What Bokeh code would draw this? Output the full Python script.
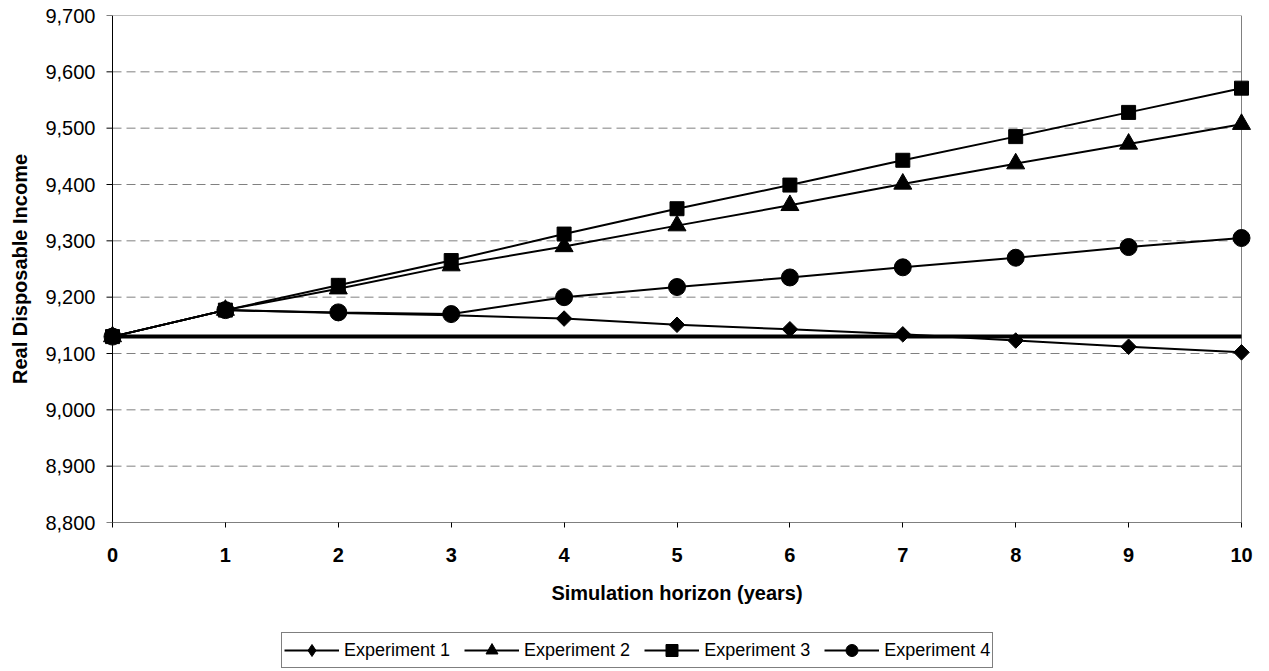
import numpy as np
from bokeh.plotting import figure
from bokeh.models import Range1d, FixedTicker, NumeralTickFormatter, Legend, LegendItem
from bokeh.layouts import column
from bokeh.embed import file_html
from bokeh.resources import INLINE

years = [0, 1, 2, 3, 4, 5, 6, 7, 8, 9, 10]
exp1 = [9130, 9177, 9172, 9168, 9162, 9151, 9143, 9134, 9123, 9112, 9102]
exp2 = [9130, 9177, 9215, 9256, 9290, 9327, 9363, 9401, 9437, 9472, 9507]
exp3 = [9130, 9177, 9221, 9265, 9312, 9357, 9399, 9443, 9485, 9528, 9571]
exp4 = [9130, 9177, 9173, 9170, 9200, 9218, 9235, 9253, 9270, 9289, 9305]
baseline = [9130] * 11
series_names = ["Experiment 1", "Experiment 2", "Experiment 3", "Experiment 4"]
y_ticks = [8800, 8900, 9000, 9100, 9200, 9300, 9400, 9500, 9600, 9700]

FONT = "Liberation Sans"
X0, X1 = years[0], years[-1]
Y0, Y1 = y_ticks[0], y_ticks[-1]

# frame is padded a little beyond the data area so that end markers are not clipped
PX_PER_YEAR = 1129 / (X1 - X0)
PAD = 12 / PX_PER_YEAR

p = figure(width=1269, height=630, output_backend="svg", toolbar_location=None,
           x_range=Range1d(X0 - PAD, X1 + PAD), y_range=Range1d(Y0, Y1),
           min_border_left=100, min_border_right=16, min_border_top=15, min_border_bottom=108)
p.background_fill_color = "white"
p.border_fill_color = "white"
p.outline_line_color = None

p.xaxis.ticker = FixedTicker(ticks=years)
p.yaxis.ticker = FixedTicker(ticks=y_ticks)
p.yaxis.formatter = NumeralTickFormatter(format="0,0")
for ax in (p.xaxis[0], p.yaxis[0]):
    ax.axis_line_color = None
    ax.major_tick_line_color = "black"
    ax.minor_tick_line_color = None
    ax.major_label_text_font = FONT
    ax.major_label_text_font_size = "20px"
    ax.major_label_text_color = "black"
    ax.axis_label_text_font = FONT
    ax.axis_label_text_font_size = "20px"
    ax.axis_label_text_font_style = "bold"
    ax.axis_label_text_color = "black"
p.xaxis.major_tick_in = 0
p.xaxis.major_tick_out = 5
p.xaxis.major_label_text_font_style = "bold"
p.xaxis.major_label_standoff = 20
p.xaxis.axis_label = "Simulation horizon (years)"
p.xaxis.axis_label_standoff = 17
p.yaxis.major_tick_line_color = None
p.yaxis.major_tick_in = 0
p.yaxis.major_tick_out = 0
p.yaxis.major_label_standoff = 5
p.yaxis.axis_label = "Real Disposable Income"
p.yaxis.axis_label_standoff = 11
p.xgrid.grid_line_color = None
p.ygrid.grid_line_color = None

# dashed horizontal grid lines inside the data area
inner = y_ticks[1:-1]
p.segment(x0=[X0] * len(inner), x1=[X1] * len(inner), y0=inner, y1=inner,
          line_color="#808080", line_width=1, line_dash="9 5")
# plot-area border: gray top and right, black left and bottom axis lines
p.segment(x0=[X0, X1], x1=[X1, X1], y0=[Y1, Y0], y1=[Y1, Y1], line_color="#808080", line_width=1)
p.segment(x0=[X0, X0], x1=[X0, X1], y0=[Y0, Y0], y1=[Y1, Y0], line_color="black", line_width=1)
# y tick marks (outside, 6 px)
tick_len = 6 / PX_PER_YEAR
p.segment(x0=[X0 - tick_len] * len(y_ticks), x1=[X0] * len(y_ticks), y0=y_ticks, y1=y_ticks,
          line_color="black", line_width=1)

# baseline
p.line(years, baseline, line_color="black", line_width=4)

specs = [(exp1, "square", 11, np.pi / 4), (exp2, "triangle", 18, 0),
         (exp3, "square", 14, 0), (exp4, "circle", 17, 0)]
for vals, marker, size, ang in specs:
    p.line(years, vals, line_color="black", line_width=2)
    p.scatter(years, vals, marker=marker, size=size, angle=ang,
              fill_color="black", line_color="black")

# legend in its own strip below the chart (its renderers hold one off-screen point each)
lf = figure(width=1269, height=41, output_backend="svg", toolbar_location=None,
            x_range=Range1d(0, 1), y_range=Range1d(0, 1),
            x_axis_type=None, y_axis_type=None, min_border=0)
lf.outline_line_color = None
lf.background_fill_color = "white"
lf.border_fill_color = "white"
legend_markers = ["diamond", "triangle", "square", "circle"]
items = []
for name, marker in zip(series_names, legend_markers):
    l = lf.line([-10, -9], [-10, -9], line_color="black", line_width=2)
    s = lf.scatter([-10], [-10], marker=marker, size=12,
                   fill_color="black", line_color="black")
    items.append(LegendItem(label=name, renderers=[l, s]))
legend = Legend(items=items, orientation="horizontal", location=(181, 3))
legend.label_text_font = FONT
legend.label_text_font_size = "18px"
legend.label_text_color = "black"
legend.border_line_color = "black"
legend.border_line_width = 1
legend.background_fill_alpha = 1
legend.glyph_width = 55
legend.glyph_height = 30
legend.spacing = 14
legend.padding = 2
legend.label_standoff = 5
legend.margin = 0
lf.add_layout(legend, "center")

open("out.html", "w").write(file_html(column(p, lf, spacing=0), INLINE))
